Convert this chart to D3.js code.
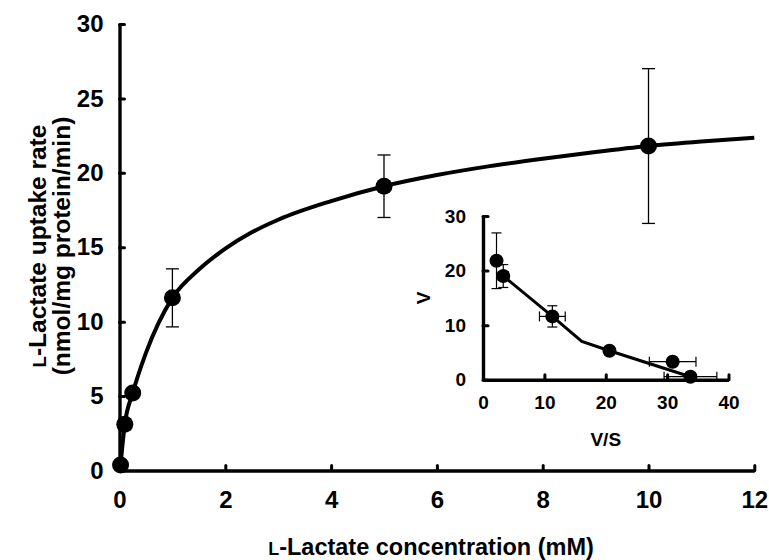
<!DOCTYPE html>
<html><head><meta charset="utf-8">
<script src="https://cdn.jsdelivr.net/npm/d3@7"></script>
<style>
body{margin:0;background:#fff;}
svg text{font-family:"Liberation Sans",Arial,sans-serif;font-weight:bold;fill:#000;}
</style></head>
<body><svg id="c" width="769" height="560"></svg>
<script>
// Main plot data: L-lactate concentration (mM), uptake rate, SD
const concentration = [0.02, 0.1, 0.25, 1, 5, 10];
const uptakeRate    = [0.37, 3.1, 5.2, 11.6, 19.1, 21.8];
const uptakeErr     = [0.1, 0.35, 0.3, 1.95, 2.1, 5.2];
// fitted curve
const curveX = [0.02, 0.1, 0.25, 0.5, 1, 1.5, 2, 2.5, 3, 4, 5, 6, 7, 8, 9, 10, 11, 12];
const curveY = [0.37, 3.1, 5.2, 7.9, 11.6, 13.5, 14.9, 16.0, 16.85, 18.1, 19.1, 19.85, 20.45, 20.95, 21.4, 21.8, 22.1, 22.35];
const mainXTicks = [0, 2, 4, 6, 8, 10, 12];
const mainYTicks = [0, 5, 10, 15, 20, 25, 30];
// Inset (Eadie-Hofstee): V/S vs V
const insetVS    = [2.2, 3.3, 11.3, 20.6, 30.9, 33.8];
const insetV     = [21.8, 19.0, 11.6, 5.3, 3.3, 0.55];
const insetVErr  = [5.1, 2.1, 1.95, 0.3, 0.3, 0.2];
const insetVSErr = [0.5, 0.8, 2.1, 0.5, 3.8, 4.3];
const insetLineX = [3.3, 11.3, 16.1, 20.6, 33.8];
const insetLineY = [19.0, 11.6, 7.0, 5.3, 0.55];
const insetXTicks = [0, 10, 20, 30, 40];
const insetYTicks = [0, 10, 20, 30];

const svg = d3.select("#c");

// ---------- main chart ----------
const x = d3.scaleLinear().domain([0, 12]).range([119.5, 754.3]);
const y = d3.scaleLinear().domain([0, 30]).range([470.5, 24]);

function styleAxis(g, fs) {
  g.select(".domain").attr("stroke", "#000").attr("stroke-width", 3.4);
  g.selectAll(".tick line").attr("stroke", "#000").attr("stroke-width", 3).attr("stroke-linecap", "round");
  g.selectAll(".tick text").attr("font-size", fs).attr("font-family", "Liberation Sans, Arial, sans-serif").attr("font-weight", "bold").attr("fill", "#000");
}

const gx = svg.append("g").attr("transform", `translate(0,${y(0)})`)
  .call(d3.axisBottom(x).tickValues(mainXTicks).tickSizeInner(-5).tickSizeOuter(0).tickPadding(20).tickFormat(d3.format("d")));
styleAxis(gx, 24);
const gy = svg.append("g").attr("transform", `translate(${x(0)},0)`)
  .call(d3.axisLeft(y).tickValues(mainYTicks).tickSizeInner(-5).tickSizeOuter(0).tickPadding(16).tickFormat(d3.format("d")));
styleAxis(gy, 24);

// curve
const curvePts = curveX.map((d, i) => [d, curveY[i]]);
svg.append("path").datum(curvePts)
  .attr("fill", "none").attr("stroke", "#000").attr("stroke-width", 4)
  .attr("d", d3.line().x(d => x(d[0])).y(d => y(d[1])).curve(d3.curveMonotoneX));

// error bars
const mainPts = concentration.map((c, i) => ({c, v: uptakeRate[i], e: uptakeErr[i]}));
const eb = svg.append("g").attr("stroke", "#000").attr("stroke-width", 1.3);
mainPts.forEach(p => {
  eb.append("line").attr("x1", x(p.c)).attr("x2", x(p.c)).attr("y1", y(p.v - p.e)).attr("y2", y(p.v + p.e));
  [p.v - p.e, p.v + p.e].forEach(v => eb.append("line").attr("x1", x(p.c) - 6.5).attr("x2", x(p.c) + 6.5).attr("y1", y(v)).attr("y2", y(v)));
});
svg.append("g").selectAll("circle").data(mainPts).join("circle")
  .attr("cx", d => x(d.c)).attr("cy", d => y(d.v)).attr("r", 8.5).attr("fill", "#000");

// axis titles
const xt = svg.append("text").attr("x", 431).attr("y", 555).attr("text-anchor", "middle").attr("font-size", 23.5);
xt.append("tspan").attr("font-size", 18).text("L");
xt.append("tspan").text("-Lactate concentration (mM)");

const yt = svg.append("g").attr("transform", "translate(0,246) rotate(-90)");
const yt1 = yt.append("text").attr("x", 0).attr("y", 46).attr("text-anchor", "middle").attr("font-size", 24.5);
yt1.append("tspan").attr("font-size", 18.5).text("L");
yt1.append("tspan").text("-Lactate uptake rate");
yt.append("text").attr("x", 0).attr("y", 70).attr("text-anchor", "middle").attr("font-size", 24.5).text("(nmol/mg protein/min)");

// ---------- inset ----------
const ix = d3.scaleLinear().domain([0, 40]).range([483, 728.5]);
const iy = d3.scaleLinear().domain([0, 30]).range([379.7, 216]);

const igx = svg.append("g").attr("transform", `translate(0,${iy(0)})`)
  .call(d3.axisBottom(ix).tickValues(insetXTicks).tickSizeInner(-5).tickSizeOuter(0).tickPadding(16).tickFormat(d3.format("d")));
styleAxis(igx, 19);
const igy = svg.append("g").attr("transform", `translate(${ix(0)},0)`)
  .call(d3.axisLeft(iy).tickValues(insetYTicks).tickSizeInner(-5).tickSizeOuter(0).tickPadding(17).tickFormat(d3.format("d")));
styleAxis(igy, 19);

const linePts = insetLineX.map((d, i) => [d, insetLineY[i]]);
svg.append("path").datum(linePts).attr("fill", "none").attr("stroke", "#000").attr("stroke-width", 3)
  .attr("d", d3.line().x(d => ix(d[0])).y(d => iy(d[1])));

const insetPts = insetVS.map((s, i) => ({s, v: insetV[i], ev: insetVErr[i], es: insetVSErr[i]}));
const ieb = svg.append("g").attr("stroke", "#000").attr("stroke-width", 1.2);
insetPts.forEach(p => {
  ieb.append("line").attr("x1", ix(p.s)).attr("x2", ix(p.s)).attr("y1", iy(p.v - p.ev)).attr("y2", iy(p.v + p.ev));
  [p.v - p.ev, p.v + p.ev].forEach(v => ieb.append("line").attr("x1", ix(p.s) - 5).attr("x2", ix(p.s) + 5).attr("y1", iy(v)).attr("y2", iy(v)));
  ieb.append("line").attr("x1", ix(p.s - p.es)).attr("x2", ix(p.s + p.es)).attr("y1", iy(p.v)).attr("y2", iy(p.v));
  [p.s - p.es, p.s + p.es].forEach(s => ieb.append("line").attr("x1", ix(s)).attr("x2", ix(s)).attr("y1", iy(p.v) - 5).attr("y2", iy(p.v) + 5));
});
svg.append("g").selectAll("circle").data(insetPts).join("circle")
  .attr("cx", d => ix(d.s)).attr("cy", d => iy(d.v)).attr("r", 7).attr("fill", "#000");

svg.append("text").attr("transform", `translate(430,${(iy(0)+iy(30))/2}) rotate(-90)`).attr("text-anchor", "middle").attr("font-size", 19).text("V");
svg.append("text").attr("x", (ix(0)+ix(40))/2).attr("y", 446).attr("text-anchor", "middle").attr("font-size", 19).text("V/S");
</script></body></html>
